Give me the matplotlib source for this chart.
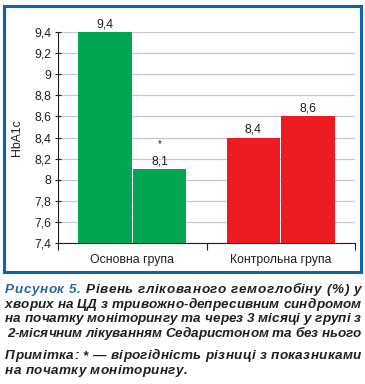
import matplotlib
matplotlib.use("Agg")
import matplotlib.pyplot as plt
from matplotlib.patches import Rectangle

plt.rcParams['font.family'] = ['Liberation Sans', 'DejaVu Sans']

groups = ["Основна група", "Контрольна група"]
before = [9.4, 8.4]
after = [8.1, 8.6]
colors = ["#00a651", "#ed1c24"]
value_labels_before = ["9,4", "8,4"]
value_labels_after = ["8,1", "8,6"]
marks_after = ["*", ""]
yticks = [7.4, 7.6, 7.8, 8.0, 8.2, 8.4, 8.6, 8.8, 9.0, 9.2, 9.4]
ytick_labels = ["7,4", "7,6", "7,8", "8", "8,2", "8,4", "8,6", "8,8", "9", "9,2", "9,4"]
ylabel = "HbA1c"

caption_prefix = "Рисунок 5."
caption_lines = [
    "Рисунок 5. Рівень глікованого гемоглобіну (%) у",
    "хворих на ЦД з тривожно-депресивним синдромом",
    "на початку моніторингу та через 3 місяці у групі з",
    "2-місячним лікуванням Седаристоном та без нього",
]
note_lines = [
    "Примітка: * — вірогідність різниці з показниками",
    "на початку моніторингу.",
]

W, H = 365, 384
fig = plt.figure(figsize=(W / 100, H / 100), dpi=100)

def px(x, y):
    return x / W, 1 - y / H

# border
fig.patches.append(Rectangle(px(4, 272), 357 / W, 266 / H, transform=fig.transFigure,
                             fill=False, edgecolor="#0a64b0", linewidth=2.2))

l, t = 58, 32
r, b = 355, 243
ax = fig.add_axes([l / W, 1 - b / H, (r - l) / W, (b - t) / H])
ax.set_xlim(0, 2)
ax.set_ylim(7.4, 9.4)
bw = 0.36
off = 0.185
LFS = 8.8
dark = "#231f20"
blue = "#2a64ad"
for i in range(2):
    xc = 0.5 + i
    ax.bar(xc - off, before[i] - 7.4, bottom=7.4, width=bw, color=colors[i], zorder=3)
    ax.bar(xc + off, after[i] - 7.4, bottom=7.4, width=bw, color=colors[i], zorder=3)
    ax.text(xc - off, before[i] + 0.015, value_labels_before[i], ha="center", va="bottom",
            fontsize=LFS, color=dark)
    ax.text(xc + off, after[i] + 0.015, value_labels_after[i], ha="center", va="bottom",
            fontsize=LFS, color=dark)
    if marks_after[i]:
        ax.text(xc + off, after[i] + 0.19, marks_after[i], ha="center", va="bottom",
                fontsize=7, color=dark)

ax.set_yticks(yticks)
ax.set_yticklabels(ytick_labels, fontsize=LFS, color=dark)
ax.yaxis.grid(True, color="#c8c8c8", linewidth=0.9, zorder=0)
ax.set_axisbelow(True)
ax.set_xticks([0, 1, 2])
ax.set_xticklabels([])
ax.set_xticks([0.5, 1.5], minor=True)
ax.set_xticklabels(groups, minor=True, fontsize=LFS, color=dark)
ax.tick_params(axis="x", which="minor", length=0, pad=8)
ax.tick_params(axis="x", which="major", length=5, direction="out", color=dark)
ax.tick_params(axis="y", length=4, direction="inout", color=dark, pad=3)
for s in ["top", "right"]:
    ax.spines[s].set_visible(False)
ax.spines["left"].set_color(dark)
ax.spines["bottom"].set_color(dark)
ax.set_ylabel(ylabel, fontsize=LFS, color=dark, labelpad=8)

# caption: character-level justification
fig.canvas.draw()
renderer = fig.canvas.get_renderer()
FS = 9.7
SPACE = 0.278 * FS * 100 / 72

def draw_line(line, y, x0, x1, justify, blue_n=0, track=None):
    items = []
    for k, ch in enumerate(line):
        if ch == " ":
            items.append((None, SPACE))
            continue
        tt = fig.text(0, 0, ch, fontsize=FS, fontweight="bold", fontstyle="italic",
                      color=blue if k < blue_n else dark, va="baseline", ha="left")
        items.append((tt, tt.get_window_extent(renderer).width))
    total = sum(w for _, w in items)
    if justify:
        gap = (x1 - x0 - total) / (len(items) - 1)
    else:
        gap = track
    x = x0
    for tt, wd in items:
        if tt is not None:
            tt.set_position(px(x, y))
        x += wd + gap
    return gap

ys = [293, 308, 322, 337]
g = 0
for i, line in enumerate(caption_lines):
    g = draw_line(line, ys[i], 5 if i != 3 else 7, 361, True,
                  blue_n=len(caption_prefix) if i == 0 else 0)
note_ys = [359, 374]
g = draw_line(note_lines[0], note_ys[0], 5, 361, True)
draw_line(note_lines[1], note_ys[1], 5, 361, False, track=g)

fig.savefig("out.png", dpi=100)
